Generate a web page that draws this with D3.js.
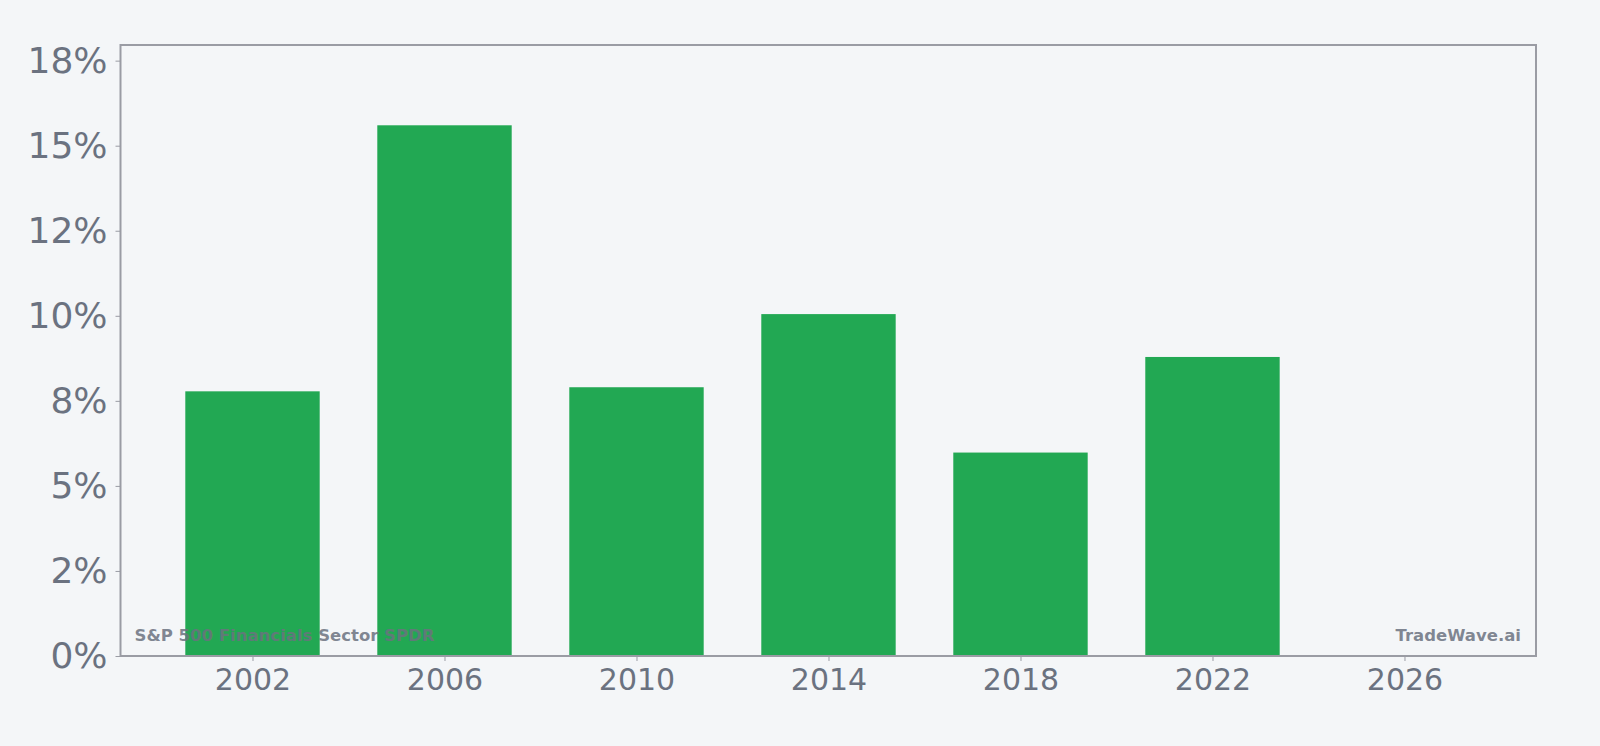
<!DOCTYPE html>
<html>
<head>
<meta charset="utf-8">
<script src="https://cdn.jsdelivr.net/npm/d3@7"></script>
<style>
  html, body { margin: 0; padding: 0; background: #f4f6f8; }
  svg { display: block; font-family: "DejaVu Sans", sans-serif; }
</style>
</head>
<body>
<svg id="chart"></svg>
<script>
// data
const years = [2002, 2006, 2010, 2014, 2018, 2022];
const returns = [7.78, 15.6, 7.9, 10.05, 5.98, 8.79];
const xTicks = [2002, 2006, 2010, 2014, 2018, 2022, 2026];
const yTicks = [0, 2.5, 5, 7.5, 10, 12.5, 15, 17.5];
const yTickLabels = ["0%", "2%", "5%", "8%", "10%", "12%", "15%", "18%"];
const seriesName = "S&P 500 Financials Sector SPDR";
const brand = "TradeWave.ai";

// dimensions
const totalWidth = 1600;
const totalHeight = 746;
const margin = { top: 45, right: 64, bottom: 90, left: 120.5 };
const graphWidth = totalWidth - margin.left - margin.right;
const graphHeight = totalHeight - margin.top - margin.bottom;
const barYears = 2.8;

const textColor = "#6b7280";
const frameColor = "#9a9ca4";

const xScale = d3.scaleLinear()
  .domain([1999.25, 2028.74])
  .range([0, graphWidth]);

const yScale = d3.scaleLinear()
  .domain([0, 17.96])
  .range([graphHeight, 0]);

const svg = d3.select("#chart")
  .attr("width", totalWidth)
  .attr("height", totalHeight);

const g = svg.append("g")
  .attr("transform", "translate(" + margin.left + "," + margin.top + ")");

// bars
g.append("g")
  .selectAll("rect")
  .data(years)
  .enter()
  .append("rect")
  .attr("x", (d) => xScale(d - barYears / 2))
  .attr("width", (d) => xScale(d + barYears / 2) - xScale(d - barYears / 2))
  .attr("y", (d, i) => yScale(returns[i]))
  .attr("height", (d, i) => graphHeight - yScale(returns[i]))
  .attr("fill", "#22a853");

// axes
const xAxis = g.append("g")
  .attr("transform", "translate(0," + graphHeight + ")")
  .call(d3.axisBottom(xScale).tickValues(xTicks).tickFormat(d3.format("d")).tickSize(5).tickPadding(8));

const yAxis = g.append("g")
  .call(d3.axisLeft(yScale).tickValues(yTicks).tickFormat((d, i) => yTickLabels[i]).tickSize(5).tickPadding(8));

[xAxis, yAxis].forEach((ax) => {
  ax.select(".domain").remove();
  ax.selectAll("line").attr("stroke", frameColor);
  ax.selectAll("text").attr("fill", textColor).attr("font-family", "DejaVu Sans, sans-serif");
});
xAxis.selectAll("text").attr("font-size", 30);
yAxis.selectAll("text").attr("font-size", 36);

// frame
g.append("rect")
  .attr("width", graphWidth)
  .attr("height", graphHeight)
  .attr("fill", "none")
  .attr("stroke", frameColor)
  .attr("stroke-width", 2);

// watermarks
g.append("text")
  .attr("x", 14)
  .attr("y", graphHeight - 15)
  .attr("font-size", 16.5)
  .attr("font-weight", "bold")
  .attr("fill", textColor)
  .attr("fill-opacity", 0.85)
  .text(seriesName);

g.append("text")
  .attr("x", graphWidth - 15)
  .attr("y", graphHeight - 15)
  .attr("text-anchor", "end")
  .attr("font-size", 16.5)
  .attr("font-weight", "bold")
  .attr("fill", textColor)
  .attr("fill-opacity", 0.85)
  .text(brand);
</script>
</body>
</html>
